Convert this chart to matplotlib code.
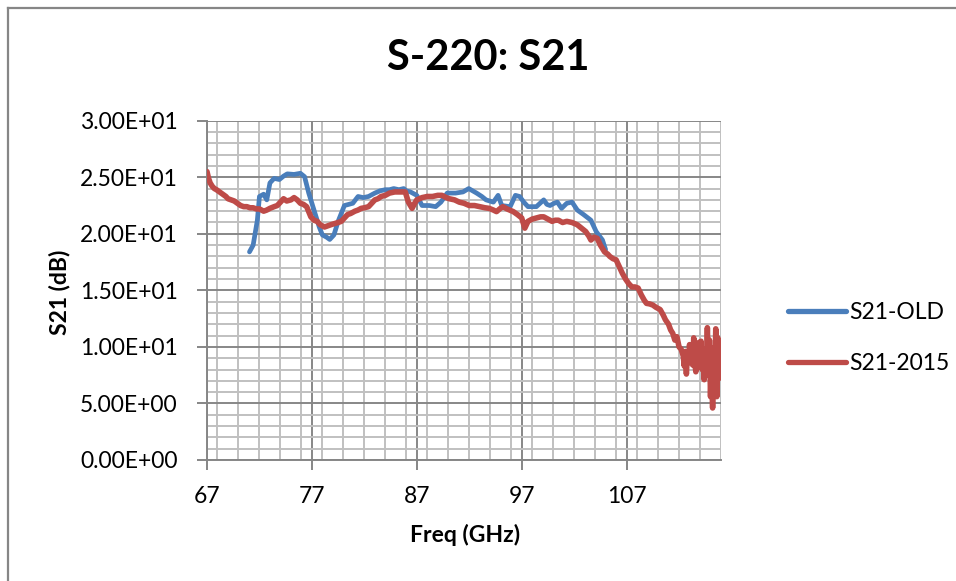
import matplotlib
matplotlib.use("Agg")
import matplotlib.pyplot as plt
from matplotlib.ticker import MultipleLocator, FuncFormatter
from matplotlib.lines import Line2D

plt.rcParams['font.family'] = ['Lato', 'DejaVu Sans']

title = "S-220: S21"
xlabel = "Freq (GHz)"
ylabel = "S21 (dB)"
series_names = ["S21-OLD", "S21-2015"]
x_ticks = [67, 77, 87, 97, 107]

old_freq = [71.05, 71.4, 71.8, 72.0, 72.4, 72.7, 73.0, 73.4, 73.9, 74.3, 74.65, 75.3,
            75.9, 76.3, 76.7, 77.2, 77.7, 78.0, 78.4, 78.7, 79.1, 79.5, 80.1, 80.5,
            80.9, 81.4, 81.9, 82.4, 83.0, 83.5, 84.0, 84.4, 84.8, 85.3, 85.75, 86.0,
            86.4, 87.0, 87.5, 88.2, 88.8, 89.3, 89.9, 90.7, 91.4, 91.95, 92.7, 93.2,
            93.6, 94.3, 94.75, 95.1, 95.9, 96.4, 96.8, 97.2, 97.6, 98.4, 99.1, 99.4,
            99.7, 100.1, 100.4, 100.8, 101.3, 101.8, 102.3, 102.9, 103.6, 104.1, 104.7, 105.0]
old_s21 = [18.4, 19.0, 21.2, 23.3, 23.5, 23.0, 24.5, 24.9, 24.8, 25.1, 25.3, 25.25,
           25.35, 25.05, 23.6, 22.1, 20.6, 19.9, 19.7, 19.5, 19.9, 21.1, 22.5, 22.6,
           22.7, 23.3, 23.2, 23.3, 23.6, 23.8, 23.9, 23.9, 24.0, 23.9, 24.0, 23.8,
           23.7, 23.4, 22.5, 22.5, 22.4, 22.8, 23.6, 23.6, 23.7, 24.0, 23.6, 23.3,
           23.0, 22.8, 23.4, 22.5, 22.4, 23.4, 23.3, 22.8, 22.4, 22.4, 23.0, 22.6,
           22.5, 22.7, 22.8, 22.25, 22.7, 22.8, 22.1, 21.7, 21.2, 20.2, 19.45, 18.6]

new_freq = [67.0, 67.15, 67.3, 67.5, 67.7, 67.9, 68.2, 68.5, 68.8, 69.0, 69.3, 69.6,
            69.9, 70.2, 70.5, 70.8, 71.1, 71.4, 71.7, 72.0, 72.4, 72.7, 73.0, 73.4,
            73.7, 74.0, 74.3, 74.6, 75.0, 75.3, 75.6, 75.9, 76.2, 76.5, 76.9, 77.2,
            77.5, 77.8, 78.2, 78.5, 78.8, 79.15, 79.5, 79.8, 80.1, 80.4, 80.7, 81.1,
            81.4, 81.7, 82.0, 82.4, 82.7, 83.0, 83.3, 83.6, 84.0, 84.4, 84.9, 85.4,
            85.9, 86.2, 86.55, 86.8, 87.0, 87.5, 88.0, 88.5, 89.0, 89.4, 89.8, 90.1,
            90.6, 91.05, 91.5, 92.0, 92.5, 93.0, 93.5, 93.9, 94.3, 94.6, 94.9, 95.2,
            95.6, 96.2, 96.6, 97.0, 97.3, 97.6, 98.0, 98.4, 98.8, 99.1, 99.5, 99.9,
            100.2, 100.5, 100.9, 101.3, 101.8, 102.3, 102.7, 103.1, 103.4, 103.6, 103.9, 104.2,
            104.5, 104.9, 105.2, 105.4, 105.7, 106.0, 106.3, 106.6, 106.9, 107.2, 107.5, 107.8,
            108.1, 108.4, 108.7, 108.9, 109.2, 109.5, 109.8, 110.2, 110.5, 110.7, 111.0, 111.2,
            111.4, 111.6, 111.8, 112.0, 112.2, 112.4, 112.5, 112.6, 112.7, 112.8, 112.9, 113.0,
            113.1, 113.2, 113.3, 113.4, 113.5, 113.6, 113.7, 113.8, 113.9, 114.0, 114.1, 114.2,
            114.3, 114.4, 114.5, 114.6, 114.7, 114.8, 114.9, 115.0, 115.1, 115.2, 115.3, 115.4,
            115.5, 115.6, 115.7, 115.8, 115.9, 116.0]
new_s21 = [25.5, 24.9, 24.5, 24.2, 24.0, 23.9, 23.7, 23.5, 23.3, 23.1, 23.0, 22.9,
           22.7, 22.5, 22.4, 22.4, 22.3, 22.3, 22.2, 22.2, 22.0, 22.1, 22.25, 22.4,
           22.5, 22.8, 23.1, 22.9, 23.0, 23.2, 23.0, 22.7, 22.6, 22.4, 21.5, 21.2,
           21.1, 20.8, 20.6, 20.7, 20.8, 20.9, 21.0, 21.1, 21.4, 21.7, 21.8, 22.0,
           22.1, 22.25, 22.3, 22.4, 22.7, 23.0, 23.1, 23.3, 23.4, 23.6, 23.7, 23.7,
           23.7, 22.8, 22.25, 22.7, 23.0, 23.2, 23.3, 23.3, 23.4, 23.4, 23.2, 23.1,
           23.0, 22.8, 22.7, 22.5, 22.5, 22.4, 22.3, 22.25, 22.1, 21.96, 22.2, 22.4,
           22.2, 21.96, 21.7, 21.4, 20.5, 21.1, 21.3, 21.4, 21.5, 21.5, 21.3, 21.1,
           21.2, 21.2, 21.0, 21.1, 21.0, 20.8, 20.5, 20.2, 19.8, 19.45, 19.7, 19.6,
           19.0, 18.4, 18.2, 18.0, 17.8, 17.7, 17.1, 16.5, 16.0, 15.6, 15.3, 15.3,
           15.2, 14.6, 14.1, 13.85, 13.8, 13.7, 13.5, 13.3, 12.8, 12.4, 12.0, 11.5,
           11.2, 10.6, 10.9, 10.0, 9.8, 9.2, 8.3, 9.6, 7.6, 9.4, 8.6, 10.2,
           8.9, 9.7, 8.4, 10.8, 8.6, 7.8, 10.0, 9.0, 10.4, 8.2, 10.5, 8.0,
           9.8, 7.1, 9.5, 8.0, 11.7, 7.5, 10.6, 5.6, 8.8, 4.6, 9.9, 6.5,
           11.6, 5.6, 10.8, 7.2, 9.6, 8.5]

W, H = 956, 581
fig = plt.figure(figsize=(W / 100, H / 100), dpi=100)
fig.patch.set_facecolor('white')

# chart border (cropped at right/bottom)
fig.add_artist(Line2D([8 / W, 1.0], [1 - 8 / H, 1 - 8 / H], color='#868686', lw=1.6))
fig.add_artist(Line2D([8 / W, 8 / W], [0.0, 1 - 8 / H], color='#868686', lw=1.6))

left, right, top, bottom = 207, 721, 120.7, 460
ax = fig.add_axes([left / W, 1 - bottom / H, (right - left) / W, (bottom - top) / H])

blue = '#4A7EBB'
red = '#BE4B48'
ax.plot(old_freq, old_s21, color=blue, lw=3.4, solid_joinstyle='round',
        solid_capstyle='round', label=series_names[0], zorder=3)
ax.plot(new_freq, new_s21, color=red, lw=4.0, solid_joinstyle='round',
        solid_capstyle='round', label=series_names[1], zorder=4)

ax.set_xlim(67, 116)
ax.set_ylim(0, 30)
ax.set_xticks(x_ticks)
ax.xaxis.set_minor_locator(MultipleLocator(2))
ax.yaxis.set_major_locator(MultipleLocator(5))
ax.yaxis.set_minor_locator(MultipleLocator(1))
ax.yaxis.set_major_formatter(FuncFormatter(lambda v, p: f"{v:.2E}"))

ax.grid(which='minor', color='#c0c0c0', lw=1.4, zorder=0)
ax.grid(which='major', color='#878787', lw=1.4, zorder=1)
ax.set_axisbelow(True)

for s in ['top', 'right']:
    ax.spines[s].set_visible(False)
for s in ['left', 'bottom']:
    ax.spines[s].set_color('#868686')
    ax.spines[s].set_linewidth(1.4)

ax.tick_params(which='major', direction='out', length=7, width=1.4, color='#868686',
               labelsize=16.5, labelcolor='black', pad=14)
ax.tick_params(axis='x', which='major', pad=12)
ax.tick_params(which='minor', length=0)

fig.text(488 / W, 1 - 58 / H, title, ha='center', va='center', fontsize=30,
         fontweight='bold')
fig.text(60 / W, 1 - 292 / H, ylabel, ha='center', va='center', rotation=90,
         fontsize=16.5, fontweight='bold')
fig.text(465 / W, 1 - 535 / H, xlabel, ha='center', va='center', fontsize=16.5,
         fontweight='bold')

leg = fig.legend(loc='center left', bbox_to_anchor=(777 / W, 1 - 338 / H),
                 frameon=False, fontsize=16.5, handlelength=2.5, handletextpad=0.15,
                 labelspacing=1.3, borderpad=0)
for line in leg.get_lines():
    line.set_linewidth(3.8)
    line.set_solid_capstyle('round')

fig.savefig('out.png', dpi=100)
